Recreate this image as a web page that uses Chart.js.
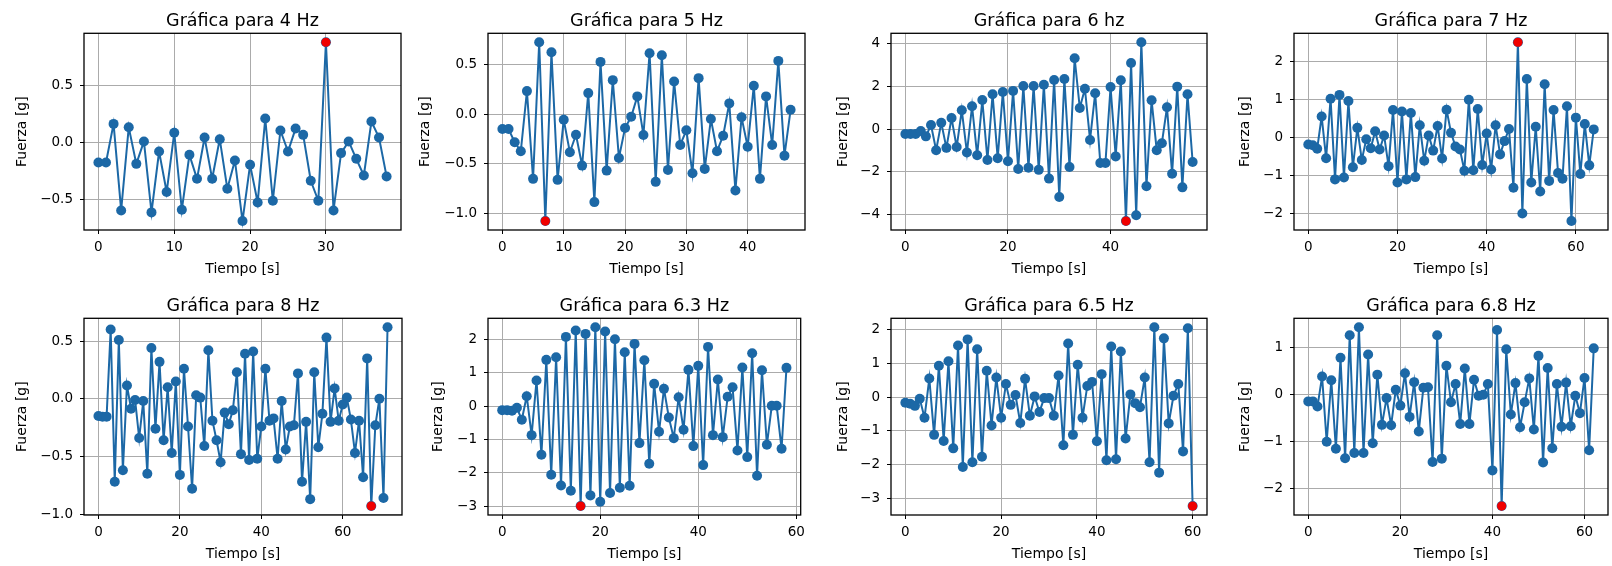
<!DOCTYPE html>
<html>
<head>
<meta charset="utf-8">
<script src="https://cdn.jsdelivr.net/npm/chart.js@4.4.1/dist/chart.umd.min.js"></script>
<style>
html,body{margin:0;padding:0;background:#fff;width:1612px;height:566px;overflow:hidden;position:relative}
canvas{position:absolute}
</style>
</head>
<body>
<script>
// ---------- DATA ----------
const titles = ['Gráfica para 4 Hz','Gráfica para 5 Hz','Gráfica para 6 hz','Gráfica para 7 Hz',
                'Gráfica para 8 Hz','Gráfica para 6.3 Hz','Gráfica para 6.5 Hz','Gráfica para 6.8 Hz'];
const xAxisLabel = 'Tiempo [s]';
const yAxisLabel = 'Fuerza [g]';

const fuerza4Hz = [-0.175,-0.175,0.163,-0.595,0.134,-0.187,0.009,-0.612,-0.079,-0.434,
  0.085,-0.589,-0.108,-0.318,0.044,-0.318,0.029,-0.405,-0.157,-0.688,
  -0.195,-0.525,0.21,-0.51,0.105,-0.079,0.122,0.067,-0.335,-0.51,
  0.878,-0.595,-0.093,0.009,-0.143,-0.289,0.184,0.044,-0.297];
const fuerza5Hz = [-0.15,-0.15,-0.283,-0.373,0.23,-0.65,0.72,-1.073,0.62,-0.66,
  -0.057,-0.383,-0.207,-0.517,0.21,-0.883,0.523,-0.567,0.34,-0.44,
  -0.14,-0.027,0.177,-0.21,0.61,-0.68,0.59,-0.56,0.327,-0.31,
  -0.163,-0.593,0.36,-0.55,-0.05,-0.373,-0.217,0.107,-0.767,-0.033,
  -0.327,0.283,-0.65,0.177,-0.31,0.533,-0.417,0.043];
const fuerza6Hz = [-0.22,-0.22,-0.22,-0.08,-0.33,0.2,-0.98,0.31,-0.87,0.53,
  -0.83,0.89,-1.09,1.08,-1.22,1.37,-1.44,1.64,-1.36,1.75,
  -1.5,1.8,-1.86,2.03,-1.8,2.03,-1.9,2.09,-2.31,2.31,
  -3.17,2.36,-1.77,3.33,1.0,1.9,-0.5,1.69,-1.58,-1.58,
  1.98,-1.27,2.3,-4.3,3.11,-4.03,4.08,-2.67,1.36,-0.98,
  -0.65,1.03,-2.08,2.0,-2.72,1.64,-1.53];
const fuerza7Hz = [-0.19,-0.21,-0.3,0.55,-0.55,1.02,-1.11,1.12,-1.06,0.96,
  -0.79,0.25,-0.6,-0.05,-0.29,0.16,-0.32,0.05,-0.76,0.72,
  -1.19,0.68,-1.11,0.64,-1.05,0.32,-0.62,0.05,-0.35,0.3,
  -0.56,0.73,0.12,-0.24,-0.32,-0.88,0.99,-0.87,0.75,-0.73,
  0.1,-0.85,0.32,-0.45,-0.1,0.22,-1.33,2.51,-2.01,1.54,
  -1.19,0.28,-1.43,1.4,-1.15,0.72,-0.94,-1.09,0.82,-2.21,
  0.52,-0.97,0.35,-0.74,0.21];
const fuerza8Hz = [-0.15,-0.155,-0.155,0.6,-0.72,0.51,-0.62,0.115,-0.086,-0.01,
  -0.34,-0.02,-0.65,0.44,-0.26,0.32,-0.36,0.1,-0.47,0.15,
  -0.66,0.26,-0.24,-0.78,0.03,0.01,-0.41,0.42,-0.19,-0.36,
  -0.55,-0.12,-0.22,-0.1,0.23,-0.48,0.39,-0.53,0.41,-0.52,
  -0.24,0.26,-0.19,-0.17,-0.52,-0.02,-0.44,-0.24,-0.23,0.22,
  -0.72,-0.2,-0.87,0.23,-0.42,-0.13,0.53,-0.2,0.09,-0.19,
  -0.05,0.01,-0.18,-0.47,-0.19,-0.68,0.35,-0.93,-0.23,0.0,
  -0.86,0.62];
const fuerza6_3Hz = [-0.12,-0.12,-0.14,-0.05,-0.41,0.3,-0.87,0.77,-1.46,1.39,
  -2.06,1.47,-2.38,2.08,-2.54,2.27,-3.0,2.17,-2.68,2.37,
  -2.87,2.24,-2.61,2.01,-2.45,1.62,-2.39,1.87,-1.11,1.38,
  -1.73,0.67,-0.77,0.52,-0.34,-0.96,0.27,-0.71,1.09,-1.2,
  1.21,-1.77,1.78,-0.87,0.8,-0.93,0.28,0.57,-1.33,1.16,
  -1.53,1.59,-2.09,1.08,-1.16,0.01,0.01,-1.28,1.15];
const fuerza6_5Hz = [-0.17,-0.2,-0.26,-0.05,-0.61,0.55,-1.12,0.93,-1.3,1.06,
  -1.52,1.53,-2.07,1.71,-1.93,1.42,-1.77,0.78,-0.84,0.58,
  -0.61,0.39,-0.23,0.06,-0.77,0.54,-0.55,0.02,-0.44,-0.03,
  -0.03,-0.55,0.64,-1.43,1.59,-1.12,0.96,-0.61,0.33,0.45,
  -1.31,0.68,-1.87,1.5,-1.84,1.35,-1.23,0.08,-0.18,-0.3,
  0.58,-1.93,2.07,-2.24,1.74,-0.78,0.04,0.39,-1.61,2.04,
  -3.23];
const fuerza6_8Hz = [-0.14,-0.14,-0.25,0.39,-1.0,0.31,-1.15,0.79,-1.35,1.27,
  -1.24,1.44,-1.24,0.86,-1.03,0.43,-0.64,-0.07,-0.65,0.11,
  -0.23,0.46,-0.47,0.27,-0.78,0.15,0.16,-1.43,1.27,-1.36,
  0.62,-0.16,0.23,-0.62,0.56,-0.62,0.32,-0.02,0.0,0.23,
  -1.61,1.38,-2.37,0.97,-0.42,0.25,-0.69,-0.16,0.35,-0.74,
  0.83,-1.44,0.57,-1.14,0.23,-0.68,0.26,-0.67,-0.02,-0.39,
  0.36,-1.18,0.99];

// tick labels
const xTicks4Hz = ['0','10','20','30'];
const xTicks5Hz = ['0','10','20','30','40'];
const xTicks6Hz = ['0','20','40'];
const xTicks60 = ['0','20','40','60'];
const yTicks4Hz = ['\u22120.5','0.0','0.5'];
const yTicks5Hz = ['\u22121.0','\u22120.5','0.0','0.5'];
const yTicks6Hz = ['\u22124','\u22122','0','2','4'];
const yTicks7Hz = ['\u22122','\u22121','0','1','2'];
const yTicks8Hz = ['\u22121.0','\u22120.5','0.0','0.5'];
const yTicks6_3Hz = ['\u22123','\u22122','\u22121','0','1','2'];
const yTicks6_5Hz = ['\u22123','\u22122','\u22121','0','1','2'];
const yTicks6_8Hz = ['\u22122','\u22121','0','1'];

const series = [fuerza4Hz,fuerza5Hz,fuerza6Hz,fuerza7Hz,fuerza8Hz,fuerza6_3Hz,fuerza6_5Hz,fuerza6_8Hz];
const xTickSets = [xTicks4Hz,xTicks5Hz,xTicks6Hz,xTicks60,xTicks60,xTicks60,xTicks60,xTicks60];
const yTickSets = [yTicks4Hz,yTicks5Hz,yTicks6Hz,yTicks7Hz,yTicks8Hz,yTicks6_3Hz,yTicks6_5Hz,yTicks6_8Hz];

// ---------- LAYOUT / STYLE ----------
const boxes = [
  {l:84, r:402, t:33, b:230, yt:22},
  {l:488, r:806, t:33, b:230, yt:425},
  {l:891, r:1208, t:33, b:230, yt:843},
  {l:1294, r:1609, t:33, b:230, yt:1245},
  {l:84, r:403, t:318, b:515, yt:22},
  {l:488, r:806, t:318, b:515, yt:438},
  {l:891, r:1208, t:318, b:515, yt:843},
  {l:1294, r:1609, t:318, b:515, yt:1245}
];
const C0 = '#1c68a6';
const GRID = '#ababab';
Chart.defaults.font.family = "'DejaVu Sans', sans-serif";
Chart.defaults.color = '#000';

const num = s => parseFloat(s.replace('\u2212','-'));

const framePlugin = {
  id: 'frame',
  afterDraw(c) {
    const a = c.chartArea, ctx = c.ctx;
    ctx.save();
    ctx.strokeStyle = '#000';
    ctx.lineWidth = 1.3;
    ctx.strokeRect(a.left, a.top, a.right - a.left, a.bottom - a.top);
    ctx.restore();
  }
};

series.forEach((vals, k) => {
  const B = boxes[k];
  const xt = xTickSets[k], yt = yTickSets[k];
  const cl = B.l - 80, ct = B.t - 24;
  const W = B.r + 4 - cl, H = B.b + 48 - ct;
  const cv = document.createElement('canvas');
  cv.width = W; cv.height = H;
  cv.style.left = cl + 'px'; cv.style.top = ct + 'px';
  cv.style.width = W + 'px'; cv.style.height = H + 'px';
  document.body.appendChild(cv);

  const pts = vals.map((v, i) => ({x: i, y: v}));
  let pk = 0;
  vals.forEach((v, i) => { if (Math.abs(v) > Math.abs(vals[pk])) pk = i; });
  const n = vals.length - 1;
  const ymin = Math.min(...vals), ymax = Math.max(...vals), sp = ymax - ymin;
  const yTitleLeft = B.yt - 8.4;
  const padL = yTitleLeft - cl;
  const yAxisW = B.l - yTitleLeft;

  new Chart(cv, {
    type: 'line',
    data: {datasets: [
      {data: pts, borderColor: C0, backgroundColor: C0, borderWidth: 2, pointRadius: 5,
       pointBackgroundColor: C0, pointBorderWidth: 0, pointHoverRadius: 5, tension: 0, order: 1},
      {data: [pts[pk]], showLine: false, pointRadius: 4.6, pointBackgroundColor: '#f00000',
       pointBorderColor: '#f00000', pointBorderWidth: 0, order: 0}
    ]},
    options: {
      responsive: false, animation: false, devicePixelRatio: 1, events: [],
      layout: {padding: {left: padL, top: 1.6, right: 4, bottom: 0}},
      plugins: {
        legend: {display: false}, tooltip: {enabled: false},
        title: {display: true, text: titles[k], fullSize: false, color: '#000',
                font: {size: 17.5, weight: 'normal'}, padding: {top: 0, bottom: 1.7}}
      },
      scales: {
        x: {
          type: 'linear', min: -0.05 * n, max: 1.05 * n, bounds: 'data',
          afterFit: s => { s.height = 48; },
          afterBuildTicks: s => { s.ticks = xt.map(t => ({value: num(t)})); },
          ticks: {callback: (v, i) => xt[i], font: {size: 13.5}, color: '#000', padding: 5, maxRotation: 0, autoSkip: false},
          grid: {color: GRID, lineWidth: 1, tickLength: 4, tickColor: '#000', tickWidth: 1},
          border: {display: false},
          title: {display: true, text: xAxisLabel, font: {size: 14}, color: '#000', padding: 0}
        },
        y: {
          type: 'linear', min: ymin - 0.05 * sp, max: ymax + 0.05 * sp, bounds: 'data',
          afterFit: s => { s.width = yAxisW; },
          afterBuildTicks: s => { s.ticks = yt.map(t => ({value: num(t)})); },
          ticks: {callback: (v, i) => yt[i], font: {size: 13.5}, color: '#000', padding: 7, autoSkip: false},
          grid: {color: GRID, lineWidth: 1, tickLength: 4, tickColor: '#000', tickWidth: 1},
          border: {display: false},
          title: {display: true, text: yAxisLabel, font: {size: 14}, color: '#000', padding: 0}
        }
      }
    },
    plugins: [framePlugin]
  });
});
</script>
</body>
</html>
